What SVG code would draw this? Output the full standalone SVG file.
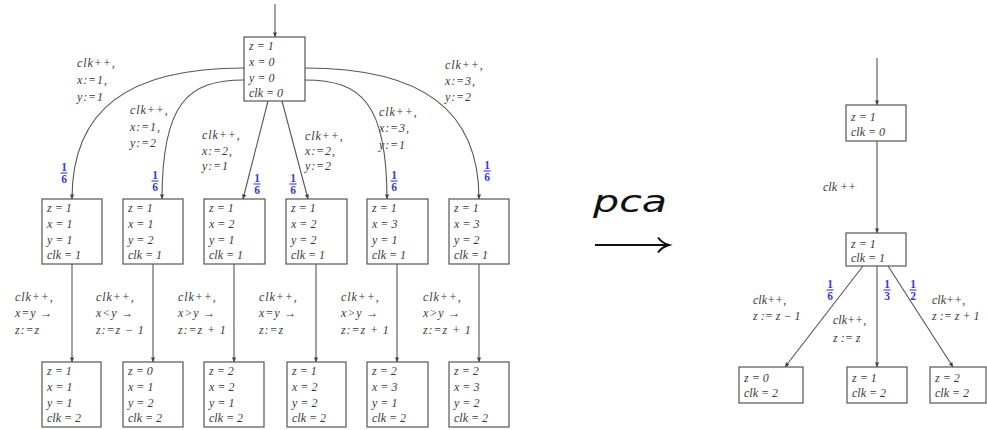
<svg xmlns="http://www.w3.org/2000/svg" width="987" height="430" viewBox="0 0 987 430">
<defs>
<marker id="ah" viewBox="0 0 6 6" refX="5.5" refY="3" markerWidth="5" markerHeight="5" orient="auto" markerUnits="userSpaceOnUse">
<path d="M0,0.5 L6,3 L0,5.5 Z" fill="#444"/>
</marker>
<style>
.box{fill:#fff;stroke:#555;stroke-width:1.2}
.t{font-family:"Liberation Serif",serif;font-style:italic;font-size:12px;fill:#3a3a3a}
.l{letter-spacing:0.9px}
.e{fill:none;stroke:#555;stroke-width:1.1;marker-end:url(#ah)}
.f{font-family:"Liberation Serif",serif;font-weight:bold;font-size:11.5px;fill:#3b3bd0;text-anchor:middle}
.fb{stroke:#3b3bd0;stroke-width:1.1}
.pca{font-family:"DejaVu Sans",sans-serif;font-style:italic;font-size:31px;fill:#111}
</style>
</defs>
<rect width="987" height="430" fill="#fff"/>

<g id="connectors">
<path class="e" d="M275,4 L275,37"/>
<path class="e" d="M244,68 C127,68 72,110 72,199"/>
<path class="e" d="M244,80 C188,80 162,103 162,199"/>
<path class="e" d="M268,101 L243,199"/>
<path class="e" d="M282,101 L308,199"/>
<path class="e" d="M305,80 C361,80 387,103 387,199"/>
<path class="e" d="M305,68 C422,68 479,110 479,199"/>
<path class="e" d="M72,264 L72,362"/>
<path class="e" d="M153,264 L153,362"/>
<path class="e" d="M234,264 L234,362"/>
<path class="e" d="M316,264 L316,362"/>
<path class="e" d="M397,264 L397,362"/>
<path class="e" d="M479,264 L479,362"/>
<path class="e" d="M877,58 L877,105"/>
<path class="e" d="M877,141 L877,233"/>
<path class="e" d="M863,266 L785,367"/>
<path class="e" d="M877,266 L877,367"/>
<path class="e" d="M888,266 L953,367"/>
<path d="M595,245 L667,245" stroke="#111" stroke-width="2.2" fill="none"/>
<path d="M658,237.5 Q662,243 669,245 Q662,247 658,252.5" stroke="#111" stroke-width="2" fill="none"/>
</g>

<g id="edge-labels" class="l">
<text class="t" x="77" y="67">clk++,</text><text class="t" x="77" y="84">x:=1,</text><text class="t" x="77" y="101">y:=1</text>
<text class="t" x="130" y="114">clk++,</text><text class="t" x="130" y="131">x:=1,</text><text class="t" x="130" y="147">y:=2</text>
<text class="t" x="202" y="139">clk++,</text><text class="t" x="202" y="155">x:=2,</text><text class="t" x="202" y="170">y:=1</text>
<text class="t" x="305" y="140">clk++,</text><text class="t" x="305" y="155">x:=2,</text><text class="t" x="305" y="170">y:=2</text>
<text class="t" x="379" y="116">clk++,</text><text class="t" x="379" y="132">x:=3,</text><text class="t" x="379" y="149">y:=1</text>
<text class="t" x="445" y="69">clk++,</text><text class="t" x="445" y="85">x:=3,</text><text class="t" x="445" y="101">y:=2</text>

<text class="t" x="15" y="301">clk++,</text><text class="t" x="15" y="317">x=y →</text><text class="t" x="15" y="334">z:=z</text>
<text class="t" x="96" y="301">clk++,</text><text class="t" x="96" y="317">x&lt;y →</text><text class="t" x="96" y="334">z:=z − 1</text>
<text class="t" x="178" y="301">clk++,</text><text class="t" x="178" y="317">x&gt;y →</text><text class="t" x="178" y="334">z:=z + 1</text>
<text class="t" x="259" y="301">clk++,</text><text class="t" x="259" y="317">x=y →</text><text class="t" x="259" y="334">z:=z</text>
<text class="t" x="341" y="301">clk++,</text><text class="t" x="341" y="317">x&gt;y →</text><text class="t" x="341" y="334">z:=z + 1</text>
<text class="t" x="423" y="301">clk++,</text><text class="t" x="423" y="317">x&gt;y →</text><text class="t" x="423" y="334">z:=z + 1</text>
</g>
<g id="abstract-labels">
<text class="t" x="823" y="191">clk ++</text>
<text class="t" x="753" y="304">clk++,</text><text class="t" x="753" y="320">z := z − 1</text>
<text class="t" x="833" y="324">clk++,</text><text class="t" x="833" y="342">z := z</text>
<text class="t" x="932" y="304">clk++,</text><text class="t" x="932" y="320">z := z + 1</text>
</g>
<text class="pca" x="593" y="212" textLength="74" lengthAdjust="spacingAndGlyphs">pca</text>

<g id="probabilities">
<g transform="translate(64,173)"><text class="f" y="-2.5">1</text><line class="fb" x1="-3.5" x2="3.5"/><text class="f" y="10">6</text></g>
<g transform="translate(155,181)"><text class="f" y="-2.5">1</text><line class="fb" x1="-3.5" x2="3.5"/><text class="f" y="10">6</text></g>
<g transform="translate(257,184)"><text class="f" y="-2.5">1</text><line class="fb" x1="-3.5" x2="3.5"/><text class="f" y="10">6</text></g>
<g transform="translate(293,184)"><text class="f" y="-2.5">1</text><line class="fb" x1="-3.5" x2="3.5"/><text class="f" y="10">6</text></g>
<g transform="translate(394,181)"><text class="f" y="-2.5">1</text><line class="fb" x1="-3.5" x2="3.5"/><text class="f" y="10">6</text></g>
<g transform="translate(487,171)"><text class="f" y="-2.5">1</text><line class="fb" x1="-3.5" x2="3.5"/><text class="f" y="10">6</text></g>
<g transform="translate(830,290)"><text class="f" y="-2.5">1</text><line class="fb" x1="-3.5" x2="3.5"/><text class="f" y="10">6</text></g>
<g transform="translate(887,290)"><text class="f" y="-2.5">1</text><line class="fb" x1="-3.5" x2="3.5"/><text class="f" y="10">3</text></g>
<g transform="translate(913,290)"><text class="f" y="-2.5">1</text><line class="fb" x1="-3.5" x2="3.5"/><text class="f" y="10">2</text></g>
</g>

<g id="root"><rect class="box" x="244" y="37" width="61" height="64"/>
<text class="t" x="249" y="50">z = 1</text><text class="t" x="249" y="66">x = 0</text><text class="t" x="249" y="82">y = 0</text><text class="t" x="249" y="97">clk = 0</text></g>

<g id="m1"><rect class="box" x="42" y="199" width="60" height="65"/>
<text class="t" x="47" y="212">z = 1</text><text class="t" x="47" y="228">x = 1</text><text class="t" x="47" y="244">y = 1</text><text class="t" x="47" y="259">clk = 1</text></g>
<g id="m2"><rect class="box" x="123" y="199" width="60" height="65"/>
<text class="t" x="128" y="212">z = 1</text><text class="t" x="128" y="228">x = 1</text><text class="t" x="128" y="244">y = 2</text><text class="t" x="128" y="259">clk = 1</text></g>
<g id="m3"><rect class="box" x="204" y="199" width="61" height="65"/>
<text class="t" x="209" y="212">z = 1</text><text class="t" x="209" y="228">x = 2</text><text class="t" x="209" y="244">y = 1</text><text class="t" x="209" y="259">clk = 1</text></g>
<g id="m4"><rect class="box" x="286" y="199" width="61" height="65"/>
<text class="t" x="291" y="212">z = 1</text><text class="t" x="291" y="228">x = 2</text><text class="t" x="291" y="244">y = 2</text><text class="t" x="291" y="259">clk = 1</text></g>
<g id="m5"><rect class="box" x="367" y="199" width="61" height="65"/>
<text class="t" x="372" y="212">z = 1</text><text class="t" x="372" y="228">x = 3</text><text class="t" x="372" y="244">y = 1</text><text class="t" x="372" y="259">clk = 1</text></g>
<g id="m6"><rect class="box" x="449" y="199" width="60" height="65"/>
<text class="t" x="454" y="212">z = 1</text><text class="t" x="454" y="228">x = 3</text><text class="t" x="454" y="244">y = 2</text><text class="t" x="454" y="259">clk = 1</text></g>

<g id="b1"><rect class="box" x="42" y="362" width="59" height="65"/>
<text class="t" x="47" y="375">z = 1</text><text class="t" x="47" y="391">x = 1</text><text class="t" x="47" y="407">y = 1</text><text class="t" x="47" y="422">clk = 2</text></g>
<g id="b2"><rect class="box" x="123" y="362" width="60" height="65"/>
<text class="t" x="128" y="375">z = 0</text><text class="t" x="128" y="391">x = 1</text><text class="t" x="128" y="407">y = 2</text><text class="t" x="128" y="422">clk = 2</text></g>
<g id="b3"><rect class="box" x="204" y="362" width="60" height="65"/>
<text class="t" x="209" y="375">z = 2</text><text class="t" x="209" y="391">x = 2</text><text class="t" x="209" y="407">y = 1</text><text class="t" x="209" y="422">clk = 2</text></g>
<g id="b4"><rect class="box" x="287" y="362" width="59" height="65"/>
<text class="t" x="292" y="375">z = 1</text><text class="t" x="292" y="391">x = 2</text><text class="t" x="292" y="407">y = 2</text><text class="t" x="292" y="422">clk = 2</text></g>
<g id="b5"><rect class="box" x="367" y="362" width="61" height="65"/>
<text class="t" x="372" y="375">z = 2</text><text class="t" x="372" y="391">x = 3</text><text class="t" x="372" y="407">y = 1</text><text class="t" x="372" y="422">clk = 2</text></g>
<g id="b6"><rect class="box" x="449" y="362" width="60" height="65"/>
<text class="t" x="454" y="375">z = 2</text><text class="t" x="454" y="391">x = 3</text><text class="t" x="454" y="407">y = 2</text><text class="t" x="454" y="422">clk = 2</text></g>

<g id="r0"><rect class="box" x="846" y="105" width="60" height="36"/>
<text class="t" x="851" y="121">z = 1</text><text class="t" x="851" y="136">clk = 0</text></g>
<g id="r1"><rect class="box" x="846" y="233" width="60" height="33"/>
<text class="t" x="851" y="248">z = 1</text><text class="t" x="851" y="262">clk = 1</text></g>
<g id="r2"><rect class="box" x="739" y="367" width="64" height="36"/>
<text class="t" x="744" y="382">z = 0</text><text class="t" x="744" y="397">clk = 2</text></g>
<g id="r3"><rect class="box" x="847" y="367" width="60" height="36"/>
<text class="t" x="852" y="382">z = 1</text><text class="t" x="852" y="397">clk = 2</text></g>
<g id="r4"><rect class="box" x="930" y="367" width="56" height="36"/>
<text class="t" x="935" y="382">z = 2</text><text class="t" x="935" y="397">clk = 2</text></g>
</svg>
